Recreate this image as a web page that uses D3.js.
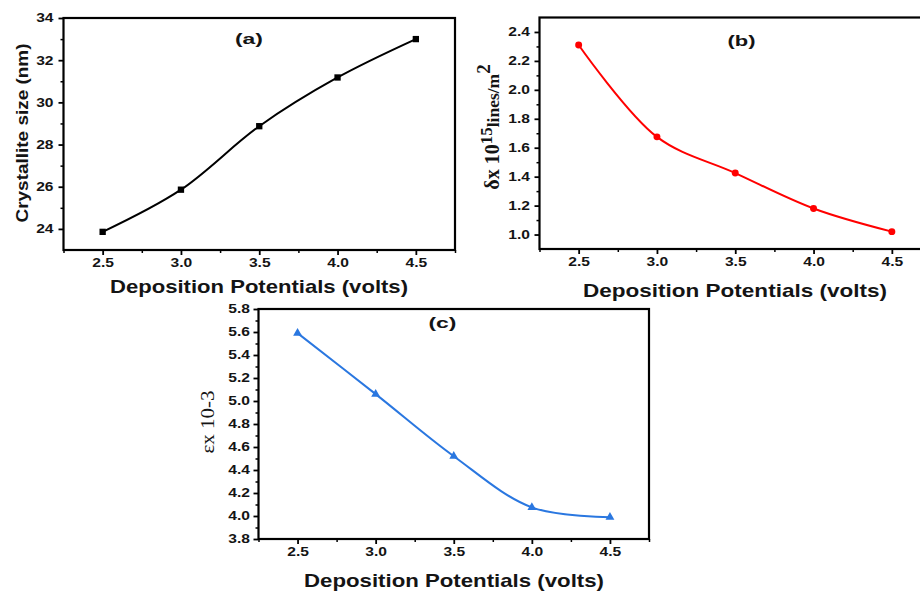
<!DOCTYPE html>
<html>
<head>
<meta charset="utf-8">
<script src="https://cdn.jsdelivr.net/npm/d3@7"></script>
<style>
  html, body { margin: 0; padding: 0; background: #fff; }
  svg { display: block; }
  .tick text { font-family: Arial, "Liberation Sans", sans-serif; font-weight: bold; fill: #141414; }
</style>
</head>
<body>
<svg id="chart" width="920" height="593"></svg>
<script>
// ---- data ----
const potentials = [2.5, 3.0, 3.5, 4.0, 4.5];
const crystalliteSize = [23.86, 25.86, 28.87, 31.18, 33.0];
const dislocationDensity = [2.31, 1.675, 1.425, 1.18, 1.02];
const strain = [5.59, 5.06, 4.52, 4.075, 3.99];

const xTickValues = [2.5, 3.0, 3.5, 4.0, 4.5];
const yTicksA = [24, 26, 28, 30, 32, 34];
const yTicksB = [1.0, 1.2, 1.4, 1.6, 1.8, 2.0, 2.2, 2.4];
const yTicksC = [3.8, 4.0, 4.2, 4.4, 4.6, 4.8, 5.0, 5.2, 5.4, 5.6, 5.8];

const xTitle = "Deposition Potentials (volts)";

const svg = d3.select("#chart");

function panel(cfg) {
  const g = svg.append("g");
  const x = d3.scaleLinear().domain([2.25, 4.75]).range([cfg.left, cfg.right]);
  const y = d3.scaleLinear().domain(cfg.yDomain).range([cfg.bottom, cfg.top]);

  // minor ticks
  const xMinor = d3.range(2.25, 4.76, 0.25).filter(v => !xTickValues.some(t => Math.abs(t - v) < 1e-6));
  g.append("g").attr("transform", `translate(0,${cfg.bottom})`)
    .call(d3.axisBottom(x).tickValues(xMinor).tickSize(3).tickFormat(""))
    .call(a => a.select(".domain").remove())
    .call(a => a.selectAll("line").attr("stroke", "#000").attr("stroke-width", 1.5));
  g.append("g").attr("transform", `translate(${cfg.left},0)`)
    .call(d3.axisLeft(y).tickValues(cfg.yMinor).tickSize(3).tickFormat(""))
    .call(a => a.select(".domain").remove())
    .call(a => a.selectAll("line").attr("stroke", "#000").attr("stroke-width", 1.5));

  // major ticks
  const xa = g.append("g").attr("transform", `translate(0,${cfg.bottom})`)
    .call(d3.axisBottom(x).tickValues(xTickValues).tickSize(5).tickPadding(3).tickFormat(d3.format(".1f")));
  const ya = g.append("g").attr("transform", `translate(${cfg.left},0)`)
    .call(d3.axisLeft(y).tickValues(cfg.yTicks).tickSize(5).tickPadding(cfg.yPad).tickFormat(cfg.yFormat));
  [xa, ya].forEach(a => {
    a.select(".domain").remove();
    a.selectAll("line").attr("stroke", "#000").attr("stroke-width", 1.8);
    a.selectAll("text").attr("font-size", 12).each(function () {
      const len = this.getComputedTextLength();
      d3.select(this).attr("textLength", len * 1.3).attr("lengthAdjust", "spacingAndGlyphs");
    });
  });

  // frame
  g.append("rect")
    .attr("x", cfg.left).attr("y", cfg.top)
    .attr("width", cfg.right - cfg.left).attr("height", cfg.bottom - cfg.top)
    .attr("fill", "none").attr("stroke", "#000").attr("stroke-width", 2.2);

  // line
  const pts = potentials.map((p, i) => [p, cfg.values[i]]);
  g.append("path")
    .datum(pts)
    .attr("fill", "none")
    .attr("stroke", cfg.color)
    .attr("stroke-width", 2)
    .attr("d", d3.line().x(d => x(d[0])).y(d => y(d[1])).curve(d3.curveCatmullRom.alpha(0.5)));

  // markers
  g.selectAll("path.mk").data(pts).enter().append("path")
    .attr("class", "mk")
    .attr("transform", d => `translate(${x(d[0])},${y(d[1])})`)
    .attr("d", d3.symbol().type(cfg.symbol).size(cfg.symSize))
    .attr("fill", cfg.color);

  // panel label
  g.append("text")
    .attr("x", cfg.labelX).attr("y", cfg.labelY)
    .attr("text-anchor", "middle")
    .attr("font-family", "Arial, 'Liberation Sans', sans-serif")
    .attr("font-weight", "bold").attr("font-size", 15)
    .attr("fill", "#141414")
    .attr("textLength", 28).attr("lengthAdjust", "spacingAndGlyphs")
    .text(cfg.label);

  // x title
  g.append("text")
    .attr("x", cfg.xTitleX).attr("y", cfg.xTitleY)
    .attr("text-anchor", "middle")
    .attr("font-family", "Arial, 'Liberation Sans', sans-serif")
    .attr("font-weight", "bold").attr("font-size", 18.5)
    .attr("fill", "#141414")
    .attr("textLength", cfg.xTitleW).attr("lengthAdjust", "spacingAndGlyphs")
    .text(xTitle);

  return { g, x, y };
}

// (a)
const pa = panel({
  left: 63.5, right: 455, top: 18, bottom: 250,
  yDomain: [23, 34], yTicks: yTicksA, yMinor: [25, 27, 29, 31, 33],
  yFormat: d3.format("d"), yPad: 5,
  values: crystalliteSize, color: "#000000", symbol: d3.symbolSquare, symSize: 40,
  label: "(a)", labelX: 249, labelY: 44,
  xTitleX: 259, xTitleY: 293, xTitleW: 298
});
pa.g.append("text")
  .attr("transform", "translate(28,133) rotate(-90)")
  .attr("text-anchor", "middle")
  .attr("font-family", "Arial, 'Liberation Sans', sans-serif")
  .attr("font-weight", "bold").attr("font-size", 17)
  .attr("fill", "#141414")
  .attr("textLength", 179).attr("lengthAdjust", "spacingAndGlyphs")
  .text("Crystallite size (nm)");

// (b)
const pb = panel({
  left: 539.5, right: 931, top: 17.5, bottom: 249,
  yDomain: [0.9, 2.5], yTicks: yTicksB, yMinor: [1.1, 1.3, 1.5, 1.7, 1.9, 2.1, 2.3],
  yFormat: d3.format(".1f"), yPad: 4.5,
  values: dislocationDensity, color: "#ff0000", symbol: d3.symbolCircle, symSize: 38,
  label: "(b)", labelX: 741.5, labelY: 46,
  xTitleX: 735, xTitleY: 297, xTitleW: 304
});
const tb = pb.g.append("text")
  .attr("transform", "translate(499,127) rotate(-90)")
  .attr("text-anchor", "middle")
  .attr("font-family", "'Liberation Serif', 'Times New Roman', serif")
  .attr("font-weight", "bold")
  .attr("fill", "#141414");
tb.append("tspan").attr("font-size", 20).text("δx 10");
tb.append("tspan").attr("font-size", 17).attr("dy", -7).text("15");
tb.append("tspan").attr("font-size", 17.5).attr("dy", 7).text("lines/m");
tb.append("tspan").attr("font-size", 19).attr("dy", -9).text("2");

// (c)
const pc = panel({
  left: 258.5, right: 649, top: 309, bottom: 539,
  yDomain: [3.8, 5.8], yTicks: yTicksC, yMinor: [3.9, 4.1, 4.3, 4.5, 4.7, 4.9, 5.1, 5.3, 5.5, 5.7],
  yFormat: d3.format(".1f"), yPad: 3.5,
  values: strain, color: "#2a77e0", symbol: d3.symbolTriangle, symSize: 34,
  label: "(c)", labelX: 442.5, labelY: 328,
  xTitleX: 454, xTitleY: 587, xTitleW: 300
});
pc.g.append("text")
  .attr("transform", "translate(214,422) rotate(-90)")
  .attr("text-anchor", "middle")
  .attr("font-family", "'Liberation Serif', 'Times New Roman', serif")
  .attr("font-size", 19)
  .attr("fill", "#141414")
  .attr("textLength", 63).attr("lengthAdjust", "spacingAndGlyphs")
  .text("εx 10-3");
</script>
</body>
</html>
